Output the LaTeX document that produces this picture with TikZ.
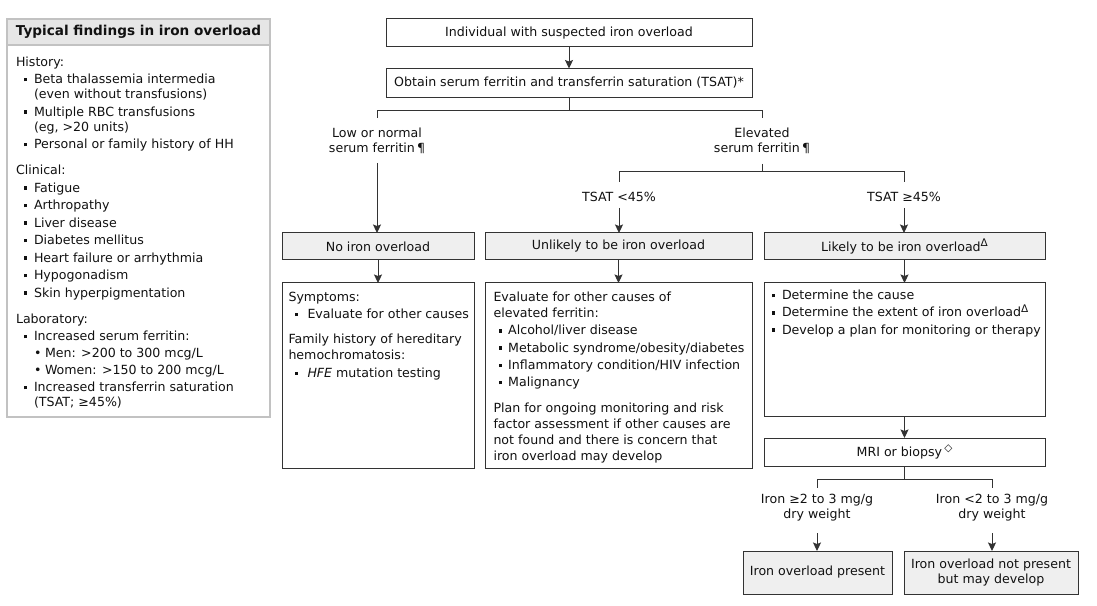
\documentclass[tikz,border=0pt]{standalone}
\usepackage{fontspec}
\setmainfont{DejaVu Sans}
\usetikzlibrary{arrows.meta}
\definecolor{linec}{HTML}{333333}
\definecolor{gfill}{HTML}{EFEFEF}
\definecolor{panelb}{HTML}{C2C2C2}
\definecolor{panelh}{HTML}{E6E6E6}
\definecolor{txt}{HTML}{111111}
\newcommand\sqb{\rule[2.3bp]{3.4bp}{3.4bp}}
\newcommand\supr[1]{\raisebox{4.3bp}{\fontsize{10.5bp}{10.5bp}\selectfont #1}}
% left panel bullets
\newcommand\pb{\hspace*{8bp}\sqb\hspace*{6.6bp}}
\newcommand\pc{\hspace*{18bp}}
\newcommand\pd{\hspace*{18bp}\makebox[11bp][l]{•}}
% content box bullets
\newcommand\lb{\hspace*{6bp}\sqb\hspace*{9.6bp}}
\newcommand\mb{\hspace*{5.5bp}\sqb\hspace*{5.8bp}}
\newcommand\rb{\sqb\hspace*{6.6bp}}
\begin{document}
\begin{tikzpicture}[x=1bp,y=-1bp,
  every node/.style={inner sep=0pt, outer sep=0pt, text=txt, font=\fontsize{12.6bp}{15bp}\selectfont},
  box/.style={draw=linec, line width=1bp, fill=white, align=center},
  gbox/.style={box, fill=gfill},
  lab/.style={align=center},
  body/.style={anchor=north west, align=left, font=\fontsize{12.6bp}{16.3bp}\selectfont},
  ln/.style={draw=linec, line width=1bp},
  arr/.style={ln, -{Stealth[length=8.5bp,width=8bp,inset=1.5bp]}},
  ]
\useasboundingbox (0,0) rectangle (1097,606);

% ---------- left panel ----------
\node[draw=panelb, line width=1.3bp, minimum width=263bp, minimum height=398bp] (panel) at (138.5,218) {};
\node[draw=panelb, line width=1.3bp, fill=panelh, minimum width=263bp, minimum height=26bp, font=\fontsize{13.6bp}{15bp}\selectfont\bfseries] (hdr) at (138.5,32) {Typical findings in iron overload};
\node[anchor=north west, align=left] (ptext) at (16,56.5) {History:\\[2.5bp]
\pb Beta thalassemia intermedia\\
\pc (even without transfusions)\\[2.5bp]
\pb Multiple RBC transfusions\\
\pc (eg, >20 units)\\[2.5bp]
\pb Personal or family history of HH\\[11bp]
Clinical:\\[2.5bp]
\pb Fatigue\\[2.5bp]
\pb Arthropathy\\[2.5bp]
\pb Liver disease\\[2.5bp]
\pb Diabetes mellitus\\[2.5bp]
\pb Heart failure or arrhythmia\\[2.5bp]
\pb Hypogonadism\\[2.5bp]
\pb Skin hyperpigmentation\\[11bp]
Laboratory:\\[2.5bp]
\pb Increased serum ferritin:\\[2bp]
\pd Men: >200 to 300 mcg/L\\[2bp]
\pd Women: >150 to 200 mcg/L\\[2bp]
\pb Increased transferrin saturation\\
\pc (TSAT; ≥45\%)};

% ---------- flowchart ----------
\node[box, minimum width=366bp, minimum height=28bp] (b1) at (569,33) {Individual with suspected iron overload};
\node[box, minimum width=366bp, minimum height=29bp] (b2) at (569,83) {Obtain serum ferritin and transferrin saturation (TSAT)*};

\node[lab] (low) at (377,141) {Low or normal\\serum ferritin\,¶};
\node[lab] (elev) at (762,141) {Elevated\\serum ferritin\,¶};
\node (tlo) at (619,197) {TSAT <45\%};
\node (thi) at (904,197) {TSAT ≥45\%};

\node[gbox, minimum width=192bp, minimum height=27bp] (g1) at (378,246.5) {No iron overload};
\node[gbox, minimum width=267bp, minimum height=27bp] (g2) at (618.5,246.5) {Unlikely to be iron overload};
\node[gbox, minimum width=281bp, minimum height=27bp] (g3) at (904.5,246.5) {Likely to be iron overload\supr{Δ}};

\node[box, minimum width=192bp, minimum height=185bp] (c1) at (378,375.5) {};
\node[box, minimum width=267bp, minimum height=185bp] (c2) at (618.5,375.5) {};
\node[box, minimum width=281bp, minimum height=133bp] (c3) at (904.5,349.5) {};

\node[body] (t1) at ([xshift=6.5bp,yshift=-8.7bp]c1.north west) {Symptoms:\\[1bp]
\lb Evaluate for other causes\\[9bp]
Family history of hereditary\\
hemochromatosis:\\[1bp]
\lb \textit{HFE} mutation testing};

\node[body] (t2) at ([xshift=8.5bp,yshift=-8.7bp]c2.north west) {Evaluate for other causes of\\
elevated ferritin:\\[1bp]
\mb Alcohol/liver disease\\[1bp]
\mb Metabolic syndrome/obesity/diabetes\\[1bp]
\mb Inflammatory condition/HIV infection\\[1bp]
\mb Malignancy\\[9bp]
Plan for ongoing monitoring and risk\\
factor assessment if other causes are\\
not found and there is concern that\\
iron overload may develop};

\node[body] (t3) at ([xshift=8bp,yshift=-7bp]c3.north west) {\rb Determine the cause\\[1bp]
\rb Determine the extent of iron overload\supr{Δ}\\[1bp]
\rb Develop a plan for monitoring or therapy};

\node[box, minimum width=281bp, minimum height=28bp] (mri) at (904.5,452) {MRI or biopsy\,\supr{◇}};
\node[lab] (ihi) at (817,508) {Iron ≥2 to 3 mg/g\\dry weight};
\node[lab] (ilo) at (992,508) {Iron <2 to 3 mg/g\\dry weight};
\node[gbox, minimum width=149bp, minimum height=43bp] (f1) at (817.5,572.5) {Iron overload present};
\node[gbox, minimum width=174bp, minimum height=43bp] (f2) at (991,572.5) {Iron overload not present\\but may develop};

% ---------- junction coordinates ----------
\coordinate (jL) at (377,118);
\coordinate (jR) at (762,118);
\coordinate (lowtail) at (377,163);
\coordinate (elevtail) at (762,164);
\coordinate (jTL) at (619,182);
\coordinate (jTH) at (904,182);
\coordinate (tlotail) at (619,208);
\coordinate (thitail) at (904,208);
\coordinate (jIH) at (817,488);
\coordinate (jIL) at (992,488);
\coordinate (ihitail) at (817,533);
\coordinate (ilotail) at (992,533);

% ---------- connectors ----------
\draw[arr] (b1) -- (b2);
\draw[ln] (b2.south) -- ++(0,13) -| (jL);
\draw[ln] (b2.south) -- ++(0,13) -| (jR);
\draw[arr] (lowtail) -- (lowtail |- g1.north);
\draw[ln] (elevtail) -- ++(0,8) -| (jTL);
\draw[ln] (elevtail) -- ++(0,8) -| (jTH);
\draw[arr] (tlotail) -- (tlotail |- g2.north);
\draw[arr] (thitail) -- (thitail |- g3.north);
\draw[arr] (g1) -- (c1);
\draw[arr] (g2) -- (c2);
\draw[arr] (g3) -- (c3);
\draw[arr] (c3) -- (mri);
\draw[ln] (mri.south) -- ++(0,13) -| (jIH);
\draw[ln] (mri.south) -- ++(0,13) -| (jIL);
\draw[arr] (ihitail) -- (ihitail |- f1.north);
\draw[arr] (ilotail) -- (ilotail |- f2.north);
\end{tikzpicture}
\end{document}
